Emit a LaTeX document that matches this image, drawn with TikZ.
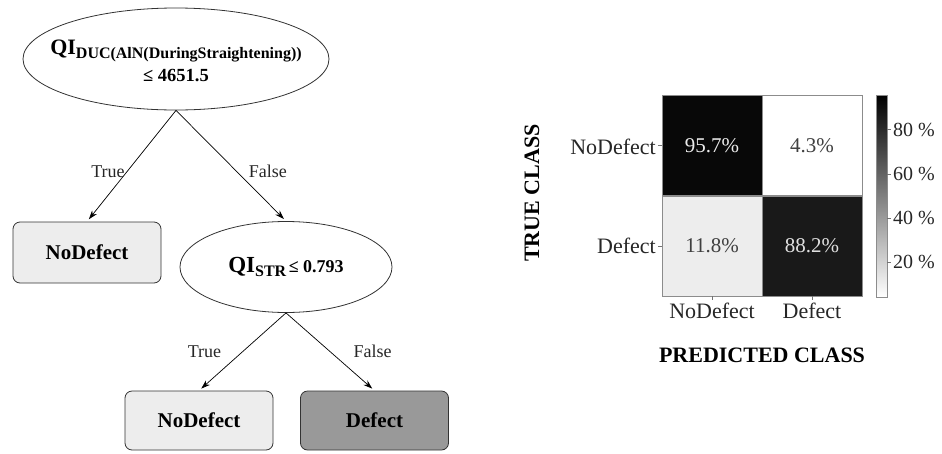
\documentclass[tikz,border=0pt]{standalone}
\usepackage{fontspec}
\setmainfont{Liberation Serif}
\usetikzlibrary{shapes.geometric,arrows.meta}

\tikzset{
  split/.style={ellipse, draw=black!80, line width=0.8pt, fill=white, inner sep=0pt},
  splittext/.style={inner sep=0pt, align=center},
  leaf/.style={rounded corners=7pt, draw=black!80, line width=0.8pt, minimum width=148pt,
               minimum height=60pt, inner sep=0pt, font=\fontsize{21}{24}\selectfont\bfseries},
  branch/.style={-{Stealth[length=9pt,width=6pt]}, line width=0.7pt, shorten >=3pt},
  blabel/.style={font=\fontsize{18}{21}\selectfont, text=black!85, inner sep=0pt},
  cell/.style={minimum size=100pt, inner sep=0pt, draw=black!45, line width=0.5pt,
               font=\fontsize{21}{24}\selectfont},
  axlabel/.style={font=\fontsize{22}{26}\selectfont, text=black!85, inner sep=0pt},
  cblabel/.style={font=\fontsize{20}{24}\selectfont, text=black!85, inner sep=0pt},
  axtitle/.style={font=\fontsize{22}{26}\selectfont\bfseries, inner sep=0pt},
  tick/.style={draw=black!55, line width=0.5pt},
}

\begin{document}
\begin{tikzpicture}[x=1pt,y=-1pt]
\useasboundingbox (0,0) rectangle (942,453);

% ---------- decision tree ----------
\node[split, minimum width=306pt, minimum height=102pt] (root) at (176,59) {};
\node[splittext] (rootText) at ([yshift=-2pt]root.center)
  {{\fontsize{22}{24}\selectfont\bfseries QI}{\fontsize{16}{18}\selectfont\bfseries\raisebox{-0.5ex}{DUC(AlN(DuringStraightening))}}\\[7pt]
   {\fontsize{18.5}{20}\selectfont\bfseries ≤ 4651.5}};

\node[leaf, fill=black!7, minimum height=61pt] (leafA) at (87,252.5) {NoDefect};

\node[split, minimum width=212pt, minimum height=91pt] (split2) at (286,267) {};
\node[splittext] (split2Text) at (split2.center)
  {{\fontsize{23}{26}\selectfont\bfseries QI}{\fontsize{16}{18}\selectfont\bfseries\raisebox{-0.5ex}{STR}}\ {\fontsize{18}{20}\selectfont\bfseries ≤ 0.793}};

\node[leaf, fill=black!7, minimum height=59pt] (leafB) at (199,420.5) {NoDefect};
\node[leaf, fill=black!40, minimum height=59pt] (leafC) at (374.5,420.5) {Defect};

\draw[branch] (root.south) -- node[blabel, pos=0.55, left=2pt] {True} (leafA.north);
\draw[branch] (root.south) -- node[blabel, pos=0.55, right=12pt] {False} (split2.north);
\draw[branch] (split2.south) -- node[blabel, pos=0.5, left=21pt] {True} (leafB.north);
\draw[branch] (split2.south) -- node[blabel, pos=0.5, right=23pt] {False} (leafC.north);

% ---------- confusion matrix ----------
\node[cell, fill=black!97, text=black!8]  (c11) at (712,145.5) {95.7\%};
\node[cell, fill=white,    text=black!75] (c12) at (812,145.5) {4.3\%};
\node[cell, fill=black!7,  text=black!75] (c21) at (712,246)   {11.8\%};
\node[cell, fill=black!90, text=black!12] (c22) at (812,246)   {88.2\%};

% axis ticks
\draw[tick] (c11.west) -- ++(-4,0);
\draw[tick] (c21.west) -- ++(-4,0);
\draw[tick] (c21.south) -- ++(0,4);
\draw[tick] (c22.south) -- ++(0,4);

% axis tick labels
\node[axlabel, anchor=east] (rowA) at (656,147) {NoDefect};
\node[axlabel, anchor=east] (rowB) at (656,246) {Defect};
\node[axlabel] (colA) at (712,311) {NoDefect};
\node[axlabel] (colB) at (812,311) {Defect};

% axis titles
\node[axtitle, rotate=90] (ytitle) at (532,193) {TRUE CLASS};
\node[axtitle] (xtitle) at (762,355) {PREDICTED CLASS};

% colour bar (4.3 % at the bottom, 95.7 % at the top)
\node[minimum width=11pt, minimum height=202pt, inner sep=0pt, draw=black!45, line width=0.5pt,
      top color=black, bottom color=white] (cbar) at (881.5,196) {};
\foreach \v/\y in {20/262.3, 40/218.1, 60/173.9, 80/129.7} {
  \draw[tick] (cbar.east |- 0,\y) -- ++(4,0);
  \node[cblabel, anchor=west] (cb\v) at (893,\y) {\v\ \%};
}
\end{tikzpicture}
\end{document}
